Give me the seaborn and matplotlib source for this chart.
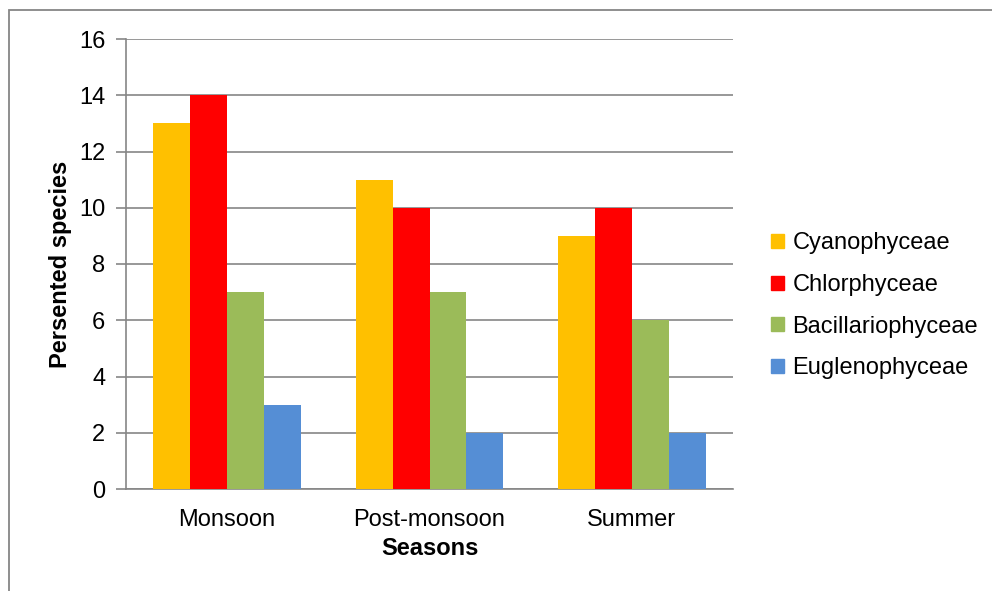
import matplotlib
matplotlib.use("Agg")
import matplotlib.pyplot as plt
import matplotlib.patches as mpatches
import seaborn as sns
import pandas as pd

# Données
seasons = ['Monsoon', 'Post-monsoon', 'Summer']
groups = ['Cyanophyceae', 'Chlorphyceae', 'Bacillariophyceae', 'Euglenophyceae']
cyanophyceae = [13, 11, 9]
chlorphyceae = [14, 10, 10]
bacillariophyceae = [7, 7, 6]
euglenophyceae = [3, 2, 2]
couleurs = ['#FFC000', '#FF0000', '#9BBB59', '#558ED5']

df = pd.DataFrame({
    'Season': seasons * 4,
    'Group': [g for g in groups for _ in seasons],
    'Count': cyanophyceae + chlorphyceae + bacillariophyceae + euglenophyceae,
})

sns.set_style('white')
plt.rcParams['font.family'] = ['Liberation Sans', 'DejaVu Sans']
plt.rcParams['text.color'] = 'black'
plt.rcParams['axes.labelcolor'] = 'black'
plt.rcParams['xtick.color'] = 'black'
plt.rcParams['ytick.color'] = 'black'

fig = plt.figure(figsize=(9.92, 5.91), dpi=100)
ax = fig.add_axes([126 / 992, 1 - 489 / 591, (733 - 126) / 992, (489 - 39) / 591])

sns.barplot(data=df, x='Season', y='Count', hue='Group', hue_order=groups,
            palette=couleurs, width=0.73, gap=0, saturation=1, linewidth=0,
            ax=ax, zorder=3)

grey = '#868686'
ax.set_ylim(0, 16)
ax.set_xlim(-0.5, 2.5)
ax.set_yticks(range(0, 17, 2))
ax.yaxis.grid(True, color=grey, linewidth=1.2, zorder=0)
ax.set_axisbelow(True)
for s in ['top', 'right']:
    ax.spines[s].set_visible(False)
for s in ['left', 'bottom']:
    ax.spines[s].set_color(grey)
    ax.spines[s].set_linewidth(1.2)
ax.tick_params(axis='y', left=True, length=7, color=grey, labelcolor='black',
               width=1.2, labelsize=17, pad=8)
ax.tick_params(axis='x', bottom=False, labelcolor='black', labelsize=17, pad=11)

ax.set_xlabel('Seasons', fontsize=17, fontweight='bold', labelpad=4)
ax.set_ylabel('Persented species', fontsize=17, fontweight='bold', labelpad=5)

# Légende
handles = [mpatches.Patch(color=c, label=g) for c, g in zip(couleurs, groups)]
ax.legend(handles=handles, loc='center left', bbox_to_anchor=(1.028, 0.407),
          frameon=False, fontsize=17, handlelength=0.55, handleheight=0.55,
          handletextpad=0.35, labelspacing=0.83)

# Cadre de la figure
fig.patches.append(mpatches.Rectangle((9 / 992, -0.1), 1.2, 1 - 10 / 591 + 0.1,
                                      transform=fig.transFigure, fill=False,
                                      edgecolor=grey, linewidth=1.3))

fig.savefig('out.png', dpi=100)
